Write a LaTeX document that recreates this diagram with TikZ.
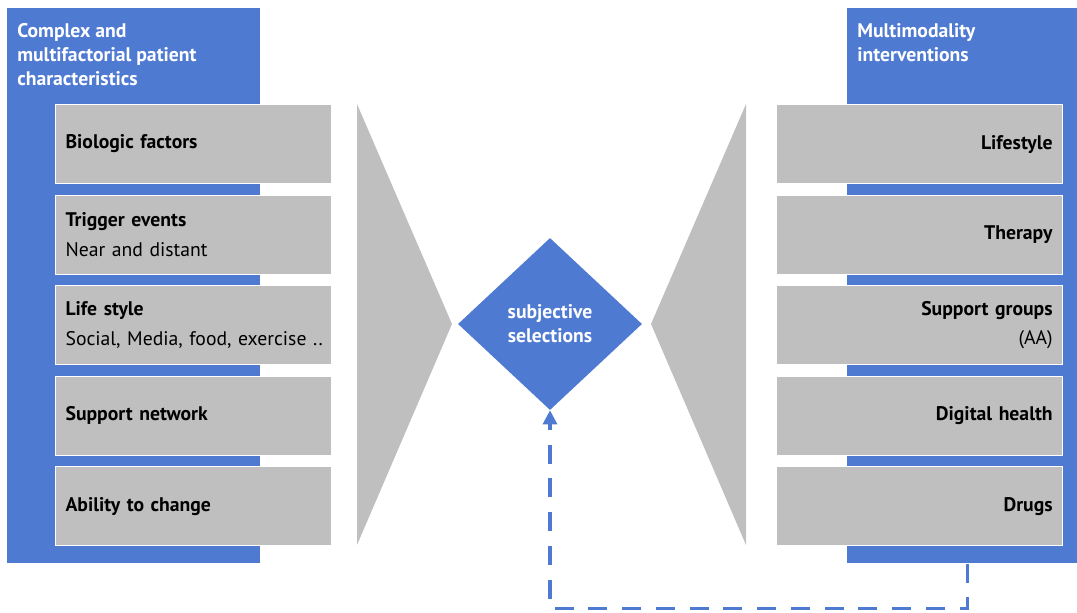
\documentclass[tikz,border=0pt]{standalone}
\usepackage{fontspec}
\setmainfont{PT Sans}
\usetikzlibrary{positioning,shapes.geometric,arrows.meta}

\begin{document}
\begin{tikzpicture}[x=0.025cm,y=-0.025cm,
  node distance=0.26cm,
  panel/.style={fill=panel blue,inner sep=0,minimum width=6.325cm,minimum height=13.875cm},
  heading/.style={text=white,font=\bfseries\fontsize{14}{17}\selectfont,align=left,inner sep=0},
  item/.style={fill=box gray,draw=white,line width=0.8pt,minimum height=1.975cm,inner xsep=0.25cm,font=\fontsize{14}{21}\selectfont},
  left item/.style={item,text width=6.4cm,align=left},
  right item/.style={item,text width=6.65cm,align=right},
  choice/.style={diamond,fill=panel blue,text=white,font=\bfseries\fontsize{14}{17}\selectfont,align=center,minimum width=4.6cm,minimum height=4.3cm,inner sep=0},
  feedback/.style={draw=panel blue,line width=2.2pt,dash pattern=on 13.5pt off 10.5pt,-{Triangle[length=10pt,width=10pt]}},
]
  \definecolor{panel blue}{RGB}{79,122,210}
  \definecolor{box gray}{RGB}{191,191,191}
  \useasboundingbox (0,0) rectangle (1077,612);

  % the two blue columns
  \node[panel,anchor=north west] (lpanel) at (7,8) {};
  \node[panel,anchor=north west,minimum width=5.75cm] (rpanel) at (847,8) {};
  \node[heading,anchor=north west] at (17,23) {Complex and\\multifactorial patient\\characteristics};
  \node[heading,anchor=north west] at (857,23) {Multimodality\\interventions};

  % patient side
  \node[left item,anchor=north west] (bio) at (55,104) {\textbf{Biologic factors}};
  \node[left item,below=of bio] (trig) {\textbf{Trigger events}\\Near and distant};
  \node[left item,below=of trig] (style) {\textbf{Life style}\\\makebox[6.4cm][l]{Social, Media, food, exercise ..}};
  \node[left item,below=of style] (net) {\textbf{Support network}};
  \node[left item,below=of net] (change) {\textbf{Ability to change}};

  % intervention side
  \node[right item,anchor=north west] (life) at (776,104) {\textbf{Lifestyle}};
  \node[right item,below=of life] (ther) {\textbf{Therapy}};
  \node[right item,below=of ther] (group) {\textbf{Support groups}\\(AA)};
  \node[right item,below=of group] (dig) {\textbf{Digital health}};
  \node[right item,below=of dig] (drug) {\textbf{Drugs}};

  % funnels into the choice
  \fill[box gray] (357,104) -- (452,324) -- (357,545) -- cycle;
  \fill[box gray] (746,104) -- (651,324) -- (746,545) -- cycle;

  \node[choice] (sel) at (550,324) {subjective\\selections};

  \draw[feedback] ([xshift=0.125cm]rpanel.south) -- ++(0,45) -| (sel.south);
\end{tikzpicture}
\end{document}
